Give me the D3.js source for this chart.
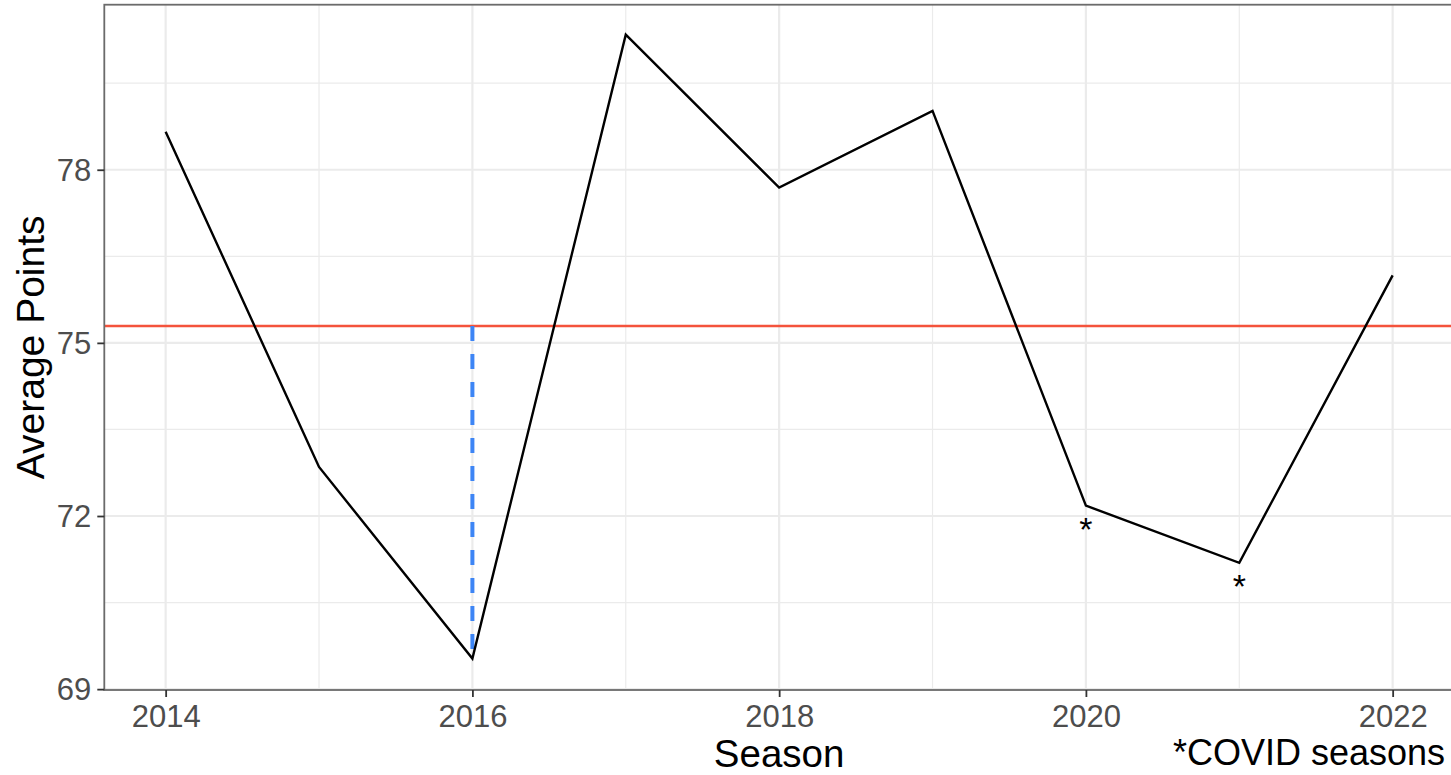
<!DOCTYPE html>
<html>
<head>
<meta charset="utf-8">
<script src="https://cdn.jsdelivr.net/npm/d3@7"></script>
<style>
  html, body { margin: 0; padding: 0; background: #fff; overflow: hidden; }
  svg { display: block; font-family: "Liberation Sans", Arial, Helvetica, sans-serif; }
</style>
</head>
<body>
<svg id="chart" width="1451" height="775"></svg>
<script>
// ---- data ----
const seasons = [2014, 2015, 2016, 2017, 2018, 2019, 2020, 2021, 2022];
const avgPoints = [78.66, 72.85, 69.53, 80.34, 77.69, 79.02, 72.18, 71.19, 76.17];
const covidSeasons = [2020, 2021];
const xTicks = [2014, 2016, 2018, 2020, 2022];
const xMinor = [2015, 2017, 2019, 2021];
const yTicks = [69, 72, 75, 78];
const yMinor = [70.5, 73.5, 76.5, 79.5];

(function () {
const svg = d3.select("#chart");
const pL = 104.3, pR = 1454, pT = 4.7, pB = 690;

const x = d3.scaleLinear().domain([2013.6, 2022.4]).range([pL, pR]);
const y = d3.scaleLinear().domain([68.985, 80.86]).range([pB, pT]);

const data = seasons.map((s, i) => ({ season: s, value: avgPoints[i] }));
const meanVal = d3.mean(avgPoints);
const minIdx = d3.minIndex(avgPoints);

const defs = svg.append("defs");
defs.append("clipPath").attr("id", "panel")
  .append("rect").attr("x", pL).attr("y", pT).attr("width", pR - pL).attr("height", pB - pT);

const g = svg.append("g").attr("clip-path", "url(#panel)");

// grid
const gridColor = "#ebebeb";
g.selectAll(".ymin").data(yMinor).join("line")
  .attr("x1", pL).attr("x2", pR).attr("y1", d => y(d)).attr("y2", d => y(d))
  .attr("stroke", gridColor).attr("stroke-width", 1.2);
g.selectAll(".xmin").data(xMinor).join("line")
  .attr("y1", pT).attr("y2", pB).attr("x1", d => x(d)).attr("x2", d => x(d))
  .attr("stroke", gridColor).attr("stroke-width", 1.2);
g.selectAll(".ymaj").data(yTicks).join("line")
  .attr("x1", pL).attr("x2", pR).attr("y1", d => y(d)).attr("y2", d => y(d))
  .attr("stroke", gridColor).attr("stroke-width", 2.2);
g.selectAll(".xmaj").data(xTicks).join("line")
  .attr("y1", pT).attr("y2", pB).attr("x1", d => x(d)).attr("x2", d => x(d))
  .attr("stroke", gridColor).attr("stroke-width", 2.2);

// mean line
g.append("line")
  .attr("x1", pL).attr("x2", pR).attr("y1", y(meanVal)).attr("y2", y(meanVal))
  .attr("stroke", "#f4533c").attr("stroke-width", 2.4);

// dashed segment from min to mean
g.append("line")
  .attr("x1", x(seasons[minIdx])).attr("x2", x(seasons[minIdx]))
  .attr("y1", y(meanVal)).attr("y2", y(avgPoints[minIdx]))
  .attr("stroke", "#3d85f5").attr("stroke-width", 4).attr("stroke-dasharray", "15,13");

// main line
g.append("path").datum(data)
  .attr("fill", "none").attr("stroke", "#000").attr("stroke-width", 2.4)
  .attr("stroke-linejoin", "miter")
  .attr("d", d3.line().x(d => x(d.season)).y(d => y(d.value)));

// covid asterisks
g.selectAll(".ast").data(data.filter(d => covidSeasons.includes(d.season))).join("text")
  .attr("x", d => x(d.season)).attr("y", d => y(d.value) + 35)
  .attr("text-anchor", "middle").attr("font-size", 34).attr("fill", "#000")
  .text("*");

// panel border
svg.append("rect")
  .attr("x", pL).attr("y", pT).attr("width", pR - pL).attr("height", pB - pT)
  .attr("fill", "none").attr("stroke", "#6b6b6b").attr("stroke-width", 1.8);

// axes
const xAxis = svg.append("g").attr("transform", `translate(0,${pB})`)
  .call(d3.axisBottom(x).tickValues(xTicks).tickFormat(d3.format("d")).tickSize(7).tickPadding(6));
const yAxis = svg.append("g").attr("transform", `translate(${pL},0)`)
  .call(d3.axisLeft(y).tickValues(yTicks).tickFormat(d3.format("d")).tickSize(7).tickPadding(6));
[xAxis, yAxis].forEach(a => {
  a.select(".domain").remove();
  a.selectAll(".tick line").attr("stroke", "#333").attr("stroke-width", 1.8);
  a.selectAll(".tick text").attr("fill", "#4d4d4d").attr("font-size", 31)
    .attr("font-family", "\"Liberation Sans\", Arial, sans-serif");
});
xAxis.selectAll(".tick text").attr("dy", "0.78em");
yAxis.selectAll(".tick text").attr("dy", "0.35em");

// titles
svg.append("text")
  .attr("x", (pL + pR) / 2).attr("y", 767)
  .attr("text-anchor", "middle").attr("font-size", 38.5).attr("fill", "#000")
  .text("Season");
svg.append("text")
  .attr("transform", `translate(44,${(pT + pB) / 2}) rotate(-90)`)
  .attr("text-anchor", "middle").attr("font-size", 39).attr("fill", "#000")
  .text("Average Points");
svg.append("text")
  .attr("x", 1445).attr("y", 765)
  .attr("text-anchor", "end").attr("font-size", 36).attr("fill", "#000")
  .text("*COVID seasons");
})();
</script>
</body>
</html>
